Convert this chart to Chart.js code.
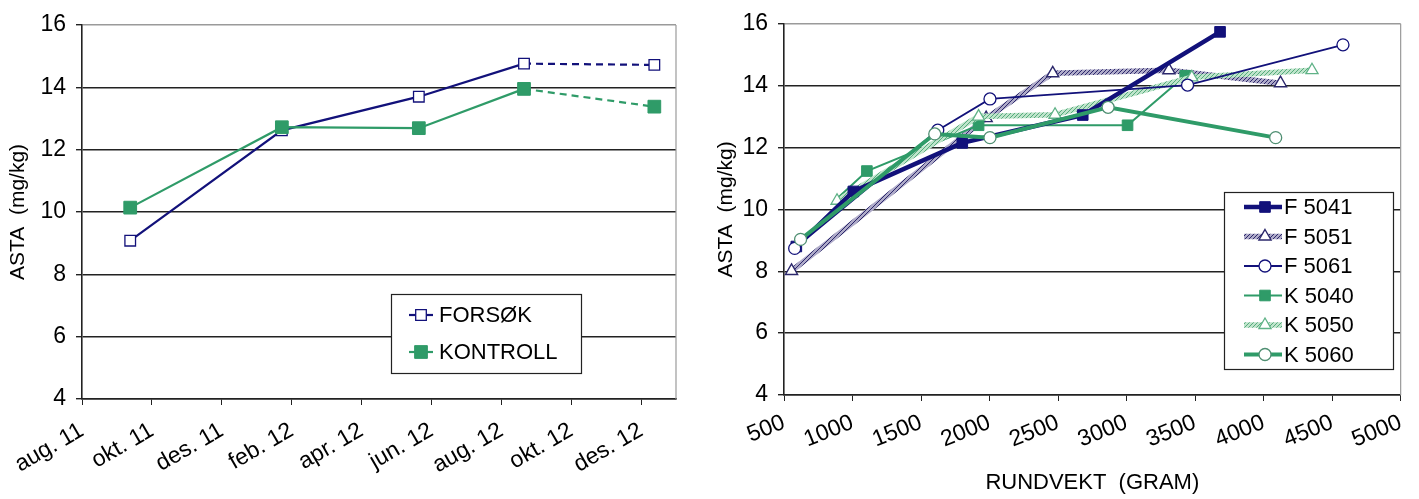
<!DOCTYPE html>
<html>
<head>
<meta charset="utf-8">
<script src="https://cdn.jsdelivr.net/npm/chart.js@4.4.1/dist/chart.umd.min.js"></script>
<style>
  html, body { margin: 0; padding: 0; background: #fff; }
  #wrap { position: relative; width: 1419px; height: 499px; }
  #c1 { position: absolute; left: 0; top: 0; }
  #c2 { position: absolute; left: 700px; top: 0; }
</style>
</head>
<body>
<div id="wrap">
  <canvas id="c1" width="700" height="499"></canvas>
  <canvas id="c2" width="719" height="499"></canvas>
</div>
<script>
// ---- left chart: ASTA over time ----
const monthTicks = ['aug. 11', 'okt. 11', 'des. 11', 'feb. 12', 'apr. 12', 'jun. 12', 'aug. 12', 'okt. 12', 'des. 12'];
// sampling dates, as months after 1 aug. 2011
const sampleMonth = [1.38, 5.72, 9.64, 12.65, 16.38];
const forsok = [9.08, 12.62, 13.70, 14.76, 14.72];
const kontroll = [10.14, 12.72, 12.69, 13.95, 13.38];

// ---- right chart: ASTA vs round weight ----
const f5041Gram = [590, 1006, 1801, 2680, 3682];
const f5041Asta = [8.80, 10.58, 12.15, 13.05, 15.74];
const f5051Gram = [555, 1975, 2461, 3309, 4123];
const f5051Asta = [8.01, 12.95, 14.40, 14.50, 14.08];
const f5061Gram = [578, 1622, 2003, 3445, 4579];
const f5061Asta = [8.74, 12.56, 13.57, 14.02, 15.32];
const k5040Gram = [900, 1105, 1920, 3007, 3428];
const k5040Asta = [10.40, 11.24, 12.72, 12.72, 14.32];
const k5050Gram = [887, 1920, 2478, 3476, 4353];
const k5050Asta = [10.28, 13.00, 13.06, 14.27, 14.50];
const k5060Gram = [621, 1600, 2003, 2865, 4088];
const k5060Asta = [9.03, 12.44, 12.32, 13.30, 12.32];

const NAVY = '#12117a';
const GREEN = '#2f9b68';
const FONT = '"Liberation Sans", Arial, sans-serif';

Chart.defaults.font.family = FONT;
Chart.defaults.color = '#000';

const xy = (xs, ys) => xs.map((x, i) => ({ x: x, y: ys[i] }));

function hatch(base, stripe) {
  const c = document.createElement('canvas');
  c.width = 4; c.height = 4;
  const g = c.getContext('2d');
  g.fillStyle = base; g.fillRect(0, 0, 4, 4);
  g.fillStyle = stripe;
  for (let i = 0; i < 4; i++) g.fillRect(i, 3 - i, 1, 1);
  return g.createPattern(c, 'repeat');
}

// legend box drawn inside the plot, like the excel one
const boxLegend = {
  id: 'boxLegend',
  afterDatasetsDraw(chart, args, o) {
    const ctx = chart.ctx;
    ctx.save();
    ctx.fillStyle = '#fff';
    ctx.fillRect(o.x, o.y, o.w, o.h);
    ctx.strokeStyle = '#222';
    ctx.lineWidth = 1.2;
    ctx.strokeRect(o.x + 0.5, o.y + 0.5, o.w, o.h);
    o.items.forEach((idx, row) => {
      const ds = chart.data.datasets[idx];
      const y = o.y + o.first + row * o.step;
      ctx.setLineDash([]);
      ctx.strokeStyle = ds.borderColor;
      ctx.lineWidth = ds.borderWidth;
      ctx.beginPath();
      ctx.moveTo(o.x + o.lineFrom, y);
      ctx.lineTo(o.x + o.lineTo, y);
      ctx.stroke();
      ctx.fillStyle = ds.pointBackgroundColor;
      ctx.strokeStyle = ds.pointBorderColor;
      ctx.lineWidth = ds.pointBorderWidth;
      const r = Array.isArray(ds.pointRadius) ? Math.max(...ds.pointRadius) : ds.pointRadius;
      Chart.helpers.drawPoint(ctx, { pointStyle: ds.pointStyle, radius: r, borderWidth: ds.pointBorderWidth, rotation: 0 }, o.x + o.marker, y);
      ctx.fillStyle = '#000';
      ctx.font = o.font;
      ctx.textBaseline = 'middle';
      ctx.textAlign = 'left';
      ctx.fillText(ds.label, o.x + o.text, y + 1);
    });
    ctx.restore();
  }
};

// gray right-hand border of the plot area
const rightBorder = {
  id: 'rightBorder',
  beforeDatasetsDraw(chart) {
    const { ctx, chartArea: a } = chart;
    ctx.save();
    ctx.strokeStyle = '#9a9a9a';
    ctx.lineWidth = 1.2;
    ctx.beginPath();
    ctx.moveTo(a.right, a.top);
    ctx.lineTo(a.right, a.bottom);
    ctx.stroke();
    ctx.restore();
  }
};

const gridColor = c => (c.tick && c.tick.value === 16 ? '#9a9a9a' : '#222');

function yAxis(width, titlePad) {
  return {
    min: 4, max: 16,
    ticks: { stepSize: 2, padding: 10, font: { size: 23 }, color: '#000' },
    grid: { color: gridColor, lineWidth: 1.4, tickLength: 6, tickColor: '#222' },
    border: { color: '#222', width: 1.6 },
    title: { display: true, text: 'ASTA  (mg/kg)', font: { size: 21 }, color: '#000', padding: { top: titlePad, bottom: 0 } },
    afterFit: s => { s.width = width; }
  };
}

const lastDashed = { borderDash: c => (c.p1DataIndex === 4 ? [7, 5] : undefined) };

new Chart(document.getElementById('c1'), {
  type: 'line',
  data: {
    datasets: [
      {
        label: 'FORSØK', data: xy(sampleMonth, forsok), order: 1,
        borderColor: NAVY, borderWidth: 2.2, segment: lastDashed,
        pointStyle: 'rect', pointRadius: 7.5, pointBorderWidth: 1.3,
        pointBackgroundColor: '#fff', pointBorderColor: NAVY
      },
      {
        label: 'KONTROLL', data: xy(sampleMonth, kontroll), order: 0,
        borderColor: GREEN, borderWidth: 2.2, segment: lastDashed,
        pointStyle: 'rect', pointRadius: 9, pointBorderWidth: 1,
        pointBackgroundColor: GREEN, pointBorderColor: GREEN
      }
    ]
  },
  options: {
    responsive: false,
    animation: false,
    layout: { padding: { top: 25, right: 24, bottom: 0, left: 0 } },
    scales: {
      x: {
        type: 'linear', min: 0, max: 17,
        ticks: {
          stepSize: 2, autoSkip: false, includeBounds: false, minRotation: 30, maxRotation: 30,
          padding: 12, font: { size: 23 }, color: '#000',
          callback: v => monthTicks[v / 2] ?? ''
        },
        grid: { drawOnChartArea: false, tickLength: 6, color: '#222' },
        border: { color: '#222', width: 1.6 },
        afterFit: s => { s.height = 100; }
      },
      y: yAxis(82, 6)
    },
    plugins: {
      legend: { display: false },
      tooltip: { enabled: false },
      boxLegend: {
        x: 391, y: 294, w: 190, h: 79, first: 21, step: 37,
        lineFrom: 18, lineTo: 42, marker: 30, text: 48,
        font: '22px ' + FONT, items: [0, 1]
      }
    }
  },
  plugins: [rightBorder, boxLegend]
});

const f5051Fill = hatch('#aeaac8', '#2c286c');
const k5050Fill = hatch('#bfe4cb', '#55ab7c');

new Chart(document.getElementById('c2'), {
  type: 'line',
  data: {
    datasets: [
      {
        label: 'F 5041', data: xy(f5041Gram, f5041Asta), order: 2,
        borderColor: NAVY, borderWidth: 4.5,
        pointStyle: 'rect', pointRadius: 7.5, pointBorderWidth: 1,
        pointBackgroundColor: NAVY, pointBorderColor: NAVY
      },
      {
        label: 'F 5051', data: xy(f5051Gram, f5051Asta), order: 5,
        borderColor: f5051Fill, borderWidth: 5.5,
        pointStyle: 'triangle', pointRadius: 7, pointBorderWidth: 1.4,
        pointBackgroundColor: '#fff', pointBorderColor: '#2c286c'
      },
      {
        label: 'F 5061', data: xy(f5061Gram, f5061Asta), order: 1,
        borderColor: NAVY, borderWidth: 1.8,
        pointStyle: 'circle', pointRadius: 6, pointBorderWidth: 1.3,
        pointBackgroundColor: '#fff', pointBorderColor: NAVY
      },
      {
        label: 'K 5040', data: xy(k5040Gram, k5040Asta), order: 4,
        borderColor: GREEN, borderWidth: 2,
        pointStyle: 'rect', pointRadius: [0, 7.5, 7.5, 7.5, 7.5], pointBorderWidth: 1,
        pointBackgroundColor: GREEN, pointBorderColor: GREEN
      },
      {
        label: 'K 5050', data: xy(k5050Gram, k5050Asta), order: 3,
        borderColor: k5050Fill, borderWidth: 5.5,
        pointStyle: 'triangle', pointRadius: 7, pointBorderWidth: 1.3,
        pointBackgroundColor: '#fff', pointBorderColor: '#5fb287'
      },
      {
        label: 'K 5060', data: xy(k5060Gram, k5060Asta), order: 0,
        borderColor: GREEN, borderWidth: 4,
        pointStyle: 'circle', pointRadius: 6, pointBorderWidth: 1.3,
        pointBackgroundColor: '#fff', pointBorderColor: '#4f8f72'
      }
    ]
  },
  options: {
    responsive: false,
    animation: false,
    layout: { padding: { top: 21, right: 3, bottom: 0, left: 0 } },
    scales: {
      x: {
        type: 'linear', min: 500, max: 5000,
        ticks: {
          stepSize: 500, autoSkip: false, minRotation: 22, maxRotation: 22, padding: 8,
          font: { size: 23 }, color: '#000', callback: v => String(v)
        },
        grid: { drawOnChartArea: false, tickLength: 6, color: '#222' },
        border: { color: '#222', width: 1.6 },
        title: { display: true, text: 'RUNDVEKT  (GRAM)', font: { size: 22 }, color: '#000', padding: { top: 4, bottom: 3 } },
        afterFit: s => { s.height = 104; }
      },
      y: yAxis(84, 14)
    },
    plugins: {
      legend: { display: false },
      tooltip: { enabled: false },
      boxLegend: {
        x: 524, y: 192, w: 169, h: 177, first: 15, step: 29.5,
        lineFrom: 20, lineTo: 58, marker: 41, text: 60,
        font: '22px ' + FONT, items: [0, 1, 2, 3, 4, 5]
      }
    }
  },
  plugins: [rightBorder, boxLegend]
});
</script>
</body>
</html>
